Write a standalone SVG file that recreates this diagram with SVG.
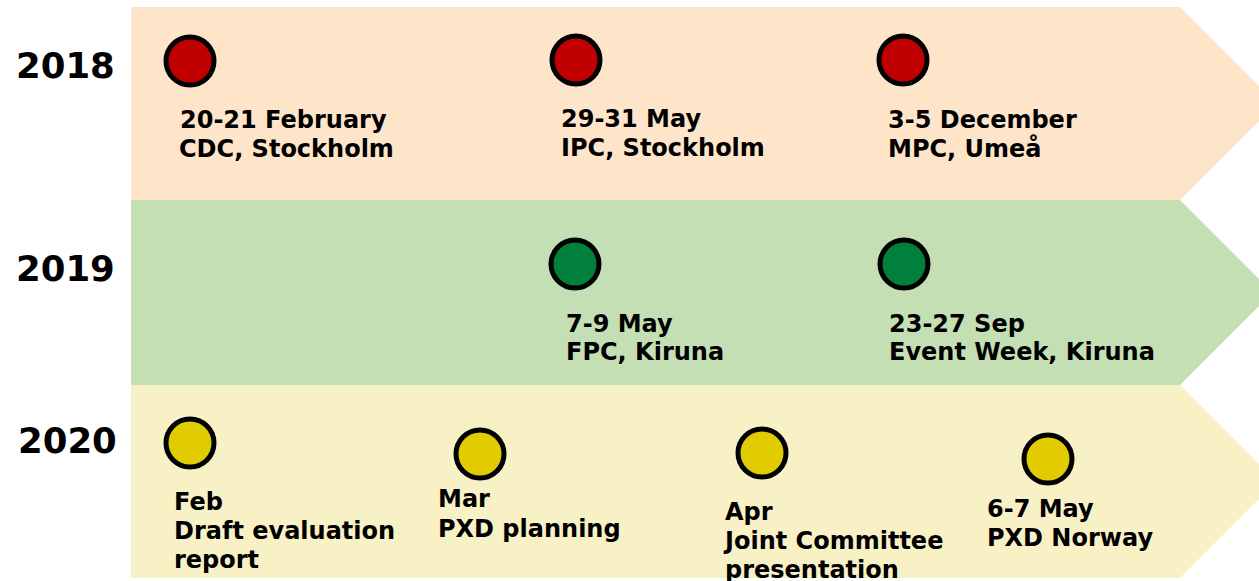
<svg xmlns="http://www.w3.org/2000/svg" width="1259" height="581" viewBox="0 0 1259 581">
<style>
.yr{font-family:"DejaVu Sans",Verdana,sans-serif;font-weight:bold;font-size:35.5px;fill:#000}
.lb{font-family:"DejaVu Sans",Verdana,sans-serif;font-weight:bold;font-size:24px;fill:#000}
.dot{stroke:#000;stroke-width:5}
.red{fill:#C00000}
.grn{fill:#00803A}
.yel{fill:#E0CC00}
</style>
<rect width="1259" height="581" fill="#FFFFFF"/>
<g id="band-2018">
<polygon points="131,7 1180,7 1276.5,103.5 1180,200 131,200" fill="#FEE5CA"/>
<text class="yr" x="16" y="78">2018</text>
</g>
<g id="band-2019">
<polygon points="131,200 1180,200 1272.5,292.5 1180,385 131,385" fill="#C5DFB4"/>
<text class="yr" x="16" y="281">2019</text>
</g>
<g id="band-2020">
<polygon points="131,385 1180,385 1276.5,481.5 1180,578 131,578" fill="#F9F1C6"/>
<text class="yr" x="18" y="453">2020</text>
</g>
<g id="e2018-feb">
<circle class="dot red" cx="190" cy="61" r="24"/>
<text class="lb" x="180" y="128">20-21 February</text>
<text class="lb" x="179" y="157">CDC, Stockholm</text>
</g>
<g id="e2018-may">
<circle class="dot red" cx="576" cy="60" r="24"/>
<text class="lb" x="561" y="127">29-31 May</text>
<text class="lb" x="561" y="156">IPC, Stockholm</text>
</g>
<g id="e2018-dec">
<circle class="dot red" cx="903" cy="60" r="24"/>
<text class="lb" x="888" y="128">3-5 December</text>
<text class="lb" x="888" y="157">MPC, Umeå</text>
</g>
<g id="e2019-may">
<circle class="dot grn" cx="575" cy="264" r="24"/>
<text class="lb" x="566" y="332">7-9 May</text>
<text class="lb" x="566" y="360">FPC, Kiruna</text>
</g>
<g id="e2019-sep">
<circle class="dot grn" cx="904" cy="264" r="24"/>
<text class="lb" x="889" y="332">23-27 Sep</text>
<text class="lb" x="889" y="360">Event Week, Kiruna</text>
</g>
<g id="e2020-feb">
<circle class="dot yel" cx="190" cy="443" r="24"/>
<text class="lb" x="174" y="510">Feb</text>
<text class="lb" x="174" y="539">Draft evaluation</text>
<text class="lb" x="174" y="568">report</text>
</g>
<g id="e2020-mar">
<circle class="dot yel" cx="480" cy="454" r="24"/>
<text class="lb" x="438" y="507">Mar</text>
<text class="lb" x="438" y="537">PXD planning</text>
</g>
<g id="e2020-apr">
<circle class="dot yel" cx="762" cy="453" r="24"/>
<text class="lb" x="725" y="520">Apr</text>
<text class="lb" x="725" y="549">Joint Committee</text>
<text class="lb" x="725" y="578">presentation</text>
</g>
<g id="e2020-may">
<circle class="dot yel" cx="1048" cy="459" r="24"/>
<text class="lb" x="987" y="517">6-7 May</text>
<text class="lb" x="987" y="546">PXD Norway</text>
</g>
<g id="connectors"></g>
</svg>
